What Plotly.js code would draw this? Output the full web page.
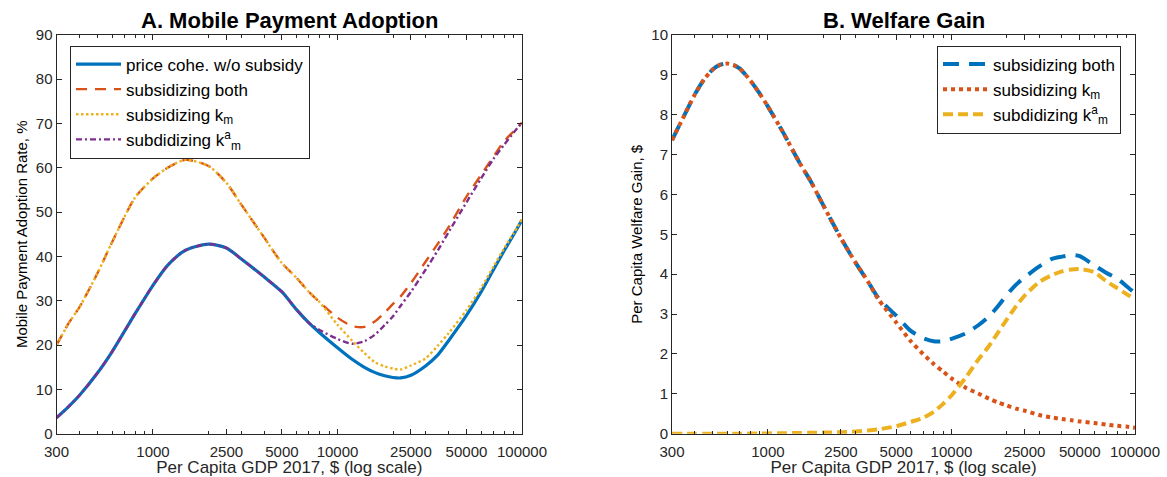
<!DOCTYPE html>
<html>
<head>
<meta charset="utf-8">
<script src="https://cdn.plot.ly/plotly-3.0.1.min.js"></script>
<style>html,body{margin:0;padding:0;background:#fff;}#chart{width:1167px;height:477px;}</style>
</head>
<body>
<div id="chart"></div>
<script>
// ---------- Panel A: Mobile payment adoption (%) ----------
const gdpA = [300, 350, 400, 500, 600, 800, 1000, 1200, 1500, 2000, 2500, 3000, 4000, 5000, 6000, 7000, 8000,
  10000, 12000, 14000, 16000, 18000, 20000, 22000, 25000, 30000, 35000, 40000, 50000, 60000, 70000, 80000, 90000, 100000];
const adoptNoSubsidy = [3.6, 6.2, 8.7, 13.7, 18.5, 27.1, 33.5, 38.0, 41.4, 42.8, 41.9, 39.5, 35.4, 32.0, 28.0, 25.0, 22.8,
  19.4, 16.8, 15.0, 13.8, 13.1, 12.7, 12.6, 13.2, 15.3, 17.8, 21.0, 26.7, 32.0, 37.0, 41.3, 44.9, 48.2];
const adoptBoth = [20.0, 25.0, 28.6, 36.2, 43.2, 53.3, 57.6, 60.0, 61.8, 60.4, 56.6, 51.8, 44.3, 38.5, 35.2, 32.0, 29.7,
  26.2, 24.3, 24.1, 25.4, 27.3, 29.3, 31.0, 34.0, 38.8, 42.9, 46.6, 53.5, 58.4, 62.5, 66.0, 68.2, 70.2];
const adoptKm = [20.0, 25.0, 28.6, 36.2, 43.2, 53.3, 57.6, 60.0, 61.8, 60.4, 56.6, 51.8, 44.3, 38.5, 35.2, 32.0, 29.7,
  24.6, 21.0, 18.2, 16.1, 15.2, 14.7, 14.5, 15.4, 17.0, 19.9, 22.7, 27.9, 32.9, 37.7, 41.8, 45.2, 48.4];
const adoptKma = [3.6, 6.2, 8.7, 13.7, 18.5, 27.1, 33.5, 38.0, 41.4, 42.8, 41.9, 39.5, 35.4, 32.0, 28.0, 25.0, 23.4,
  21.4, 20.3, 20.9, 22.4, 24.5, 26.5, 28.9, 32.0, 37.0, 41.4, 45.5, 52.2, 57.6, 62.0, 65.2, 67.9, 70.2];

// ---------- Panel B: Per capita welfare gain ($) ----------
const gdpB = [300, 350, 400, 450, 500, 550, 600, 650, 700, 800, 900, 1000, 1200, 1500, 1700, 2000, 2500, 3000, 3500,
  4000, 5000, 6000, 7000, 8000, 9000, 10000, 12000, 14000, 16000, 18000, 20000, 22500, 25000, 30000, 35000, 40000,
  45000, 50000, 60000, 70000, 80000, 90000, 100000];
const welfareBoth = [7.36, 7.98, 8.51, 8.89, 9.13, 9.25, 9.28, 9.24, 9.16, 8.86, 8.53, 8.20, 7.58, 6.76, 6.35, 5.73, 4.90, 4.29, 3.82,
  3.40, 2.96, 2.58, 2.40, 2.32, 2.32, 2.38, 2.52, 2.72, 2.94, 3.21, 3.48, 3.74, 3.92, 4.19, 4.38, 4.44,
  4.48, 4.45, 4.22, 4.03, 3.89, 3.70, 3.52];
const welfareKm = [7.36, 7.98, 8.51, 8.89, 9.13, 9.25, 9.28, 9.24, 9.16, 8.86, 8.53, 8.20, 7.58, 6.76, 6.35, 5.73, 4.90, 4.29, 3.82,
  3.37, 2.79, 2.32, 2.00, 1.75, 1.56, 1.39, 1.15, 1.01, 0.88, 0.78, 0.71, 0.63, 0.58, 0.47, 0.41, 0.37,
  0.34, 0.31, 0.27, 0.23, 0.20, 0.18, 0.15];
const welfareKma = [0, 0, 0, 0, 0, 0, 0, 0, 0, 0.005, 0.007, 0.01, 0.015, 0.02, 0.025, 0.03, 0.04, 0.055, 0.08,
  0.11, 0.19, 0.30, 0.40, 0.55, 0.75, 0.96, 1.42, 1.86, 2.20, 2.55, 2.86, 3.20, 3.46, 3.80, 3.97, 4.07,
  4.12, 4.13, 4.05, 3.82, 3.65, 3.50, 3.37];

// ---------- Labels ----------
const xTickVals = [300, 1000, 2500, 5000, 10000, 25000, 50000, 100000];
const xTickText = ['300', '1000', '2500', '5000', '10000', '25000', '50000', '100000'];
const xMinorVals = [400, 500, 600, 700, 800, 900, 2000, 3000, 4000, 6000, 7000, 8000, 9000,
  20000, 30000, 40000, 60000, 70000, 80000, 90000];
const namesA = ['price cohe. w/o subsidy', 'subsidizing both', 'subsidizing k<sub>m</sub>', 'subdidizing k<sup>a</sup><sub>m</sub>'];
const namesB = ['subsidizing both', 'subsidizing k<sub>m</sub>', 'subdidizing k<sup>a</sup><sub>m</sub>'];

const C_BLUE = '#0072BD', C_ORANGE = '#D95319', C_YELLOW = '#EDB120', C_PURPLE = '#7E2F8E';
const FONT = 'Liberation Sans, Arial, Helvetica, sans-serif';
const AX = '#262626';

function ln(color, width, dash) {
  const o = {color: color, width: width, shape: 'spline', smoothing: 0.7};
  if (dash) o.dash = dash;
  return o;
}

const traces = [
  {x: gdpA, y: adoptNoSubsidy, name: namesA[0], mode: 'lines', line: ln(C_BLUE, 3.2), xaxis: 'x', yaxis: 'y', legend: 'legend'},
  {x: gdpA, y: adoptBoth, name: namesA[1], mode: 'lines', line: ln(C_ORANGE, 2.4, '11px,8px'), xaxis: 'x', yaxis: 'y', legend: 'legend'},
  {x: gdpA, y: adoptKm, name: namesA[2], mode: 'lines', line: ln(C_YELLOW, 2.4, '2.5px,2.5px'), xaxis: 'x', yaxis: 'y', legend: 'legend'},
  {x: gdpA, y: adoptKma, name: namesA[3], mode: 'lines', line: ln(C_PURPLE, 2.4, '6px,3px,2px,3px'), xaxis: 'x', yaxis: 'y', legend: 'legend'},
  {x: gdpB, y: welfareBoth, name: namesB[0], mode: 'lines', line: ln(C_BLUE, 4, '16px,10px'), xaxis: 'x2', yaxis: 'y2', legend: 'legend2'},
  {x: gdpB, y: welfareKm, name: namesB[1], mode: 'lines', line: ln(C_ORANGE, 4, '4px,4px'), xaxis: 'x2', yaxis: 'y2', legend: 'legend2'},
  {x: gdpB, y: welfareKma, name: namesB[2], mode: 'lines', line: ln(C_YELLOW, 4, '10px,5px'), xaxis: 'x2', yaxis: 'y2', legend: 'legend2'}
];

function xAxis(domain, anchor) {
  return {
    type: 'log', domain: domain, anchor: anchor,
    range: [Math.log10(300), 5],
    tickmode: 'array', tickvals: xTickVals, ticktext: xTickText,
    ticks: 'inside', ticklen: 5, tickcolor: AX, tickwidth: 1, ticklabelstandoff: 4,
    minor: {tickmode: 'array', tickvals: xMinorVals, ticks: 'inside', ticklen: 3, tickcolor: AX, tickwidth: 1, showgrid: false},
    showline: true, linecolor: AX, linewidth: 1, mirror: 'allticks',
    showgrid: false, zeroline: false,
    tickfont: {family: FONT, size: 15, color: AX},
    title: {text: 'Per Capita GDP 2017, $ (log scale)', font: {family: FONT, size: 17, color: AX}, standoff: 7}
  };
}
function yAxis(anchor, range, dtick, title, standoff) {
  return {
    domain: [0.0906, 0.9270], anchor: anchor,
    range: range, tickmode: 'linear', tick0: 0, dtick: dtick,
    ticks: 'inside', ticklen: 5, tickcolor: AX, tickwidth: 1,
    showline: true, linecolor: AX, linewidth: 1, mirror: 'allticks',
    showgrid: false, zeroline: false,
    tickfont: {family: FONT, size: 15, color: AX},
    title: {text: title, font: {family: FONT, size: 15, color: '#000'}, standoff: standoff}
  };
}
function legendBox(x, y) {
  return {
    x: x, y: y, xref: 'paper', yref: 'paper', xanchor: 'left', yanchor: 'top',
    bgcolor: '#fff', bordercolor: AX, borderwidth: 1,
    font: {family: FONT, size: 17, color: '#000'},
    itemwidth: 45, tracegroupgap: 0, traceorder: 'normal'
  };
}

const layout = {
  width: 1167, height: 477,
  margin: {l: 0, r: 0, t: 0, b: 0},
  paper_bgcolor: '#fff', plot_bgcolor: '#fff',
  showlegend: true,
  xaxis: xAxis([56.5 / 1167, 522 / 1167], 'y'),
  yaxis: yAxis('x', [0, 90], 10, 'Mobile Payment Adoption Rate, %', 4),
  xaxis2: xAxis([672 / 1167, 1135 / 1167], 'y2'),
  yaxis2: yAxis('x2', [0, 10], 1, 'Per Capita Welfare Gain, $', 5),
  legend: legendBox(70 / 1167, 1 - 45.5 / 477),
  legend2: legendBox(937 / 1167, 1 - 45.5 / 477),
  annotations: [
    {text: '<b>A. Mobile Payment Adoption</b>', xref: 'paper', yref: 'paper', x: 289 / 1167, y: 0.927,
     xanchor: 'center', yanchor: 'bottom', showarrow: false, font: {family: FONT, size: 22, color: '#000'}},
    {text: '<b>B. Welfare Gain</b>', xref: 'paper', yref: 'paper', x: 903.5 / 1167, y: 0.927,
     xanchor: 'center', yanchor: 'bottom', showarrow: false, font: {family: FONT, size: 22, color: '#000'}}
  ]
};

Plotly.newPlot('chart', traces, layout, {staticPlot: true, displayModeBar: false});
</script>
</body>
</html>
